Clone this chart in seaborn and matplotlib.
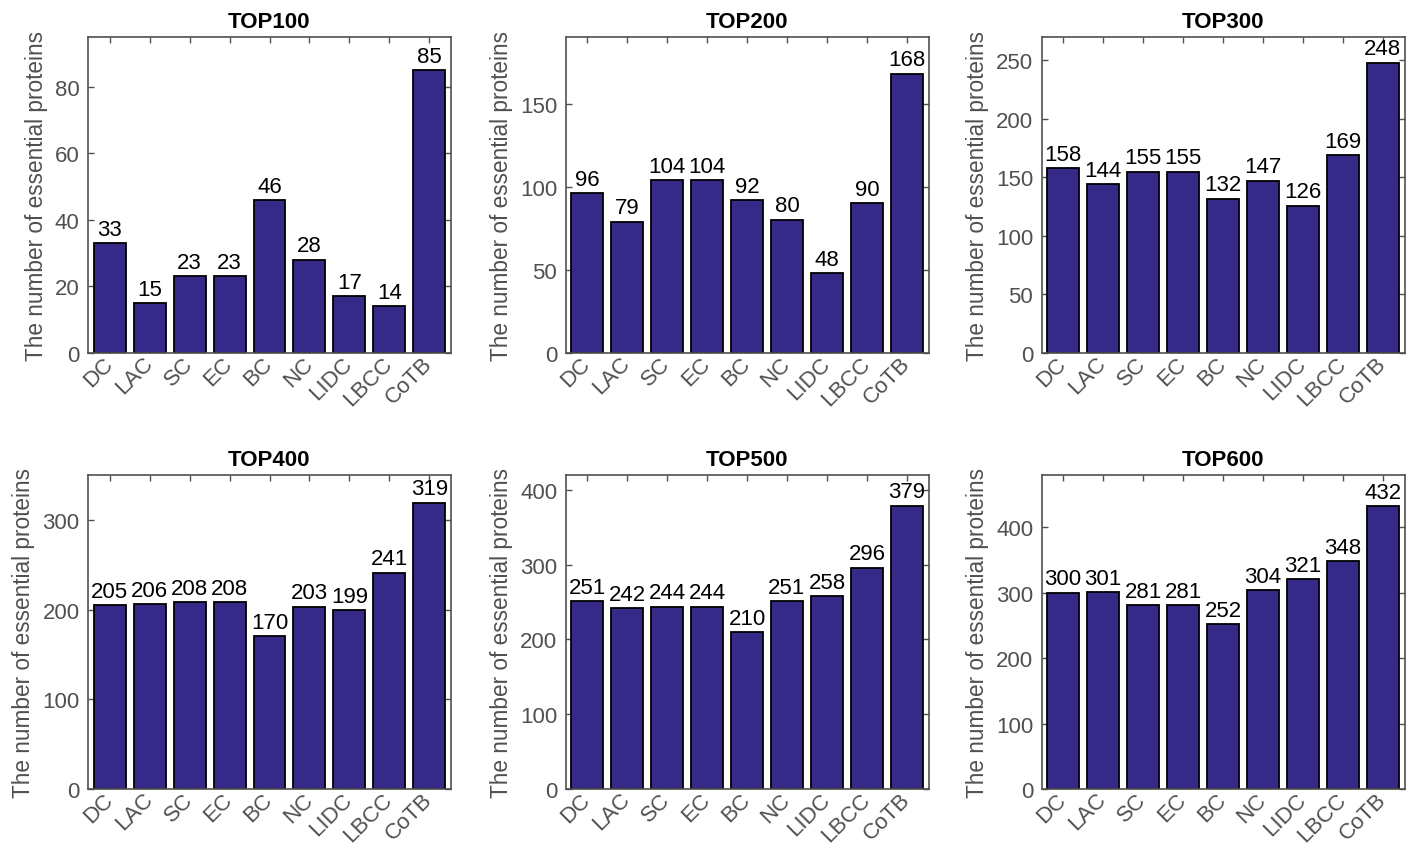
import matplotlib
matplotlib.use("Agg")
import matplotlib.pyplot as plt
import seaborn as sns
import pandas as pd

categories = ["DC", "LAC", "SC", "EC", "BC", "NC", "LIDC", "LBCC", "CoTB"]
titles = ["TOP100", "TOP200", "TOP300", "TOP400", "TOP500", "TOP600"]
top100 = [33, 15, 23, 23, 46, 28, 17, 14, 85]
top200 = [96, 79, 104, 104, 92, 80, 48, 90, 168]
top300 = [158, 144, 155, 155, 132, 147, 126, 169, 248]
top400 = [205, 206, 208, 208, 170, 203, 199, 241, 319]
top500 = [251, 242, 244, 244, 210, 251, 258, 296, 379]
top600 = [300, 301, 281, 281, 252, 304, 321, 348, 432]
series = [top100, top200, top300, top400, top500, top600]
ylims = [95, 190, 270, 350, 420, 480]
yticks = [[0, 20, 40, 60, 80], [0, 50, 100, 150], [0, 50, 100, 150, 200, 250],
          [0, 100, 200, 300], [0, 100, 200, 300, 400], [0, 100, 200, 300, 400]]

sns.set_theme(style="white")
plt.rcParams["font.family"] = ["Liberation Sans", "DejaVu Sans"]

bar_color = "#352a87"
axis_color = "#505050"

fig = plt.figure(figsize=(14.18, 8.45), dpi=100)
lefts = [88 / 1418, 565.5 / 1418, 1041.5 / 1418]
width = 363 / 1418
bottoms = [1 - 354 / 845, 1 - 790 / 845]
heights = [316 / 845, 314 / 845]

for i, (title, vals) in enumerate(zip(titles, series)):
    r, c = divmod(i, 3)
    ax = fig.add_axes([lefts[c], bottoms[r], width, heights[r]])
    df = pd.DataFrame({"method": categories, "count": vals})
    sns.barplot(data=df, x="method", y="count", color=bar_color, saturation=1,
                edgecolor="black", linewidth=1.3, width=0.8, ax=ax)
    for p in ax.patches:
        p.set_facecolor(bar_color)
    ax.bar_label(ax.containers[0], labels=[str(v) for v in vals], padding=2.5,
                 fontsize=16, color="black")
    ax.set_xlim(-0.54, 8.54)
    ax.set_ylim(0, ylims[i])
    ax.set_yticks(yticks[i])
    ax.set_xlabel("")
    ax.set_ylabel("The number of essential proteins", fontsize=16.3,
                  color=axis_color, labelpad=5)
    ax.set_title(title, fontsize=16, fontweight="bold", color="black", pad=7)
    ax.set_xticks(range(len(categories)))
    ax.set_xticklabels(categories, rotation=45, ha="right", va="center",
                       rotation_mode="anchor")
    ax.tick_params(axis="both", direction="in", length=4, width=1,
                   color=axis_color, labelcolor=axis_color, labelsize=16,
                   top=True, right=True, bottom=True, left=True)
    ax.tick_params(axis="x", pad=5)
    ax.tick_params(axis="y", pad=6)
    for s in ax.spines.values():
        s.set_visible(True)
        s.set_color(axis_color)
        s.set_linewidth(1.2)

fig.savefig("out.png", dpi=100, facecolor="white")
